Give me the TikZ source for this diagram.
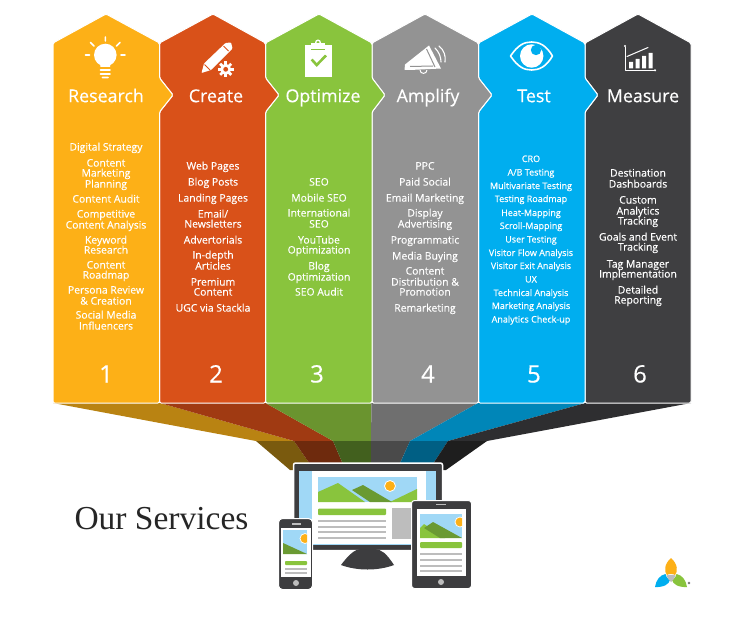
\documentclass[tikz,border=0pt]{standalone}
\usepackage{fontspec}
\setmainfont[RawFeature={embolden=0.35}]{Open Sans}
\newfontfamily\slabfont{Liberation Serif}
\definecolor{cA}{HTML}{FDB017}\definecolor{cB}{HTML}{D95119}\definecolor{cC}{HTML}{89C43D}
\definecolor{cD}{HTML}{939393}\definecolor{cE}{HTML}{00AEEF}\definecolor{cF}{HTML}{3F3F41}
\definecolor{mA}{HTML}{B98312}\definecolor{mB}{HTML}{A03A12}\definecolor{mC}{HTML}{6A942F}
\definecolor{mD}{HTML}{6F6F6F}\definecolor{mE}{HTML}{0086B8}\definecolor{mF}{HTML}{2E2E30}
\definecolor{lA}{HTML}{7A5A0E}\definecolor{lB}{HTML}{6E2A0D}\definecolor{lC}{HTML}{42601E}
\definecolor{lD}{HTML}{4A4A4A}\definecolor{lE}{HTML}{005F84}\definecolor{lF}{HTML}{1E1E1E}
\definecolor{sky}{HTML}{A0D8F6}\definecolor{devdark}{HTML}{3D3D3F}\definecolor{barg}{HTML}{BDBDBD}
\definecolor{hill}{HTML}{89C43D}\definecolor{hilld}{HTML}{6A9A33}
\tikzset{
 column/.style={draw=white,line width=1pt,rounded corners=1.5pt,line join=round},
 label/.style={text=white,inner sep=0pt},
 heading/.style={label,font=\fontsize{17.8}{20}\selectfont,text height=16.3pt,text depth=3.9pt},
 entry/.style={label,font=\fontsize{10.4}{11}\selectfont,text height=9.5pt,text depth=2.3pt},
 small/.style={label,font=\fontsize{9}{11}\selectfont,text height=8pt,text depth=2pt},
 digit/.style={label,font=\fontsize{24}{26}\selectfont,text height=22.3pt,text depth=5.3pt},
 icon/.style={draw=white,line cap=round,line join=round},
 grayline/.style={draw=barg,line width=2.2pt},
}
\begin{document}
\begin{tikzpicture}[x=1pt,y=-1pt]
\useasboundingbox (0,0) rectangle (749,623);
\fill[white] (0,0) rectangle (749,623);
% funnel
\foreach \a/\b/\ma/\mb/\la/\lb/\ca/\cb in {
 53/160/256/294/290/314/mA/lA,
 160/265.5/294/333/314/345.5/mB/lB,
 265.5/371.5/333/371/345.5/371/mC/lC,
 371.5/478/371/410/371/397/mD/lD,
 478/585.5/410/448/397/429/mE/lE,
 585.5/691/448/487/429/446/mF/lF}{
 \fill[\ca] (\a,403) -- (\b,403) -- (\mb,441) -- (\ma,441) -- cycle;
 \fill[\cb] (\ma,441) -- (\mb,441) -- (\lb,470) -- (\la,470) -- cycle;
}
% columns, right to left so every point lies over its neighbour
\fill[cF,column] (585,43) -- (638,14) -- (691,43) -- (691,403) -- (585,403) -- (585,112) -- (598,95) -- (585,78) -- cycle;
\fill[cE,column] (478.5,43) -- (532,14) -- (585,43) -- (585,78) -- (598,95) -- (585,112) -- (585,403) -- (478.5,403) -- (478.5,112) -- (492,95) -- (478.5,78) -- cycle;
\fill[cD,column] (372,43) -- (425,14) -- (478.5,43) -- (478.5,78) -- (492,95) -- (478.5,112) -- (478.5,403) -- (372,403) -- (372,112) -- (385,95) -- (372,78) -- cycle;
\fill[cC,column] (265.5,43) -- (319,14) -- (372,43) -- (372,78) -- (385,95) -- (372,112) -- (372,403) -- (265.5,403) -- (265.5,112) -- (279,95) -- (265.5,78) -- cycle;
\fill[cB,column] (159.5,43) -- (213,14) -- (265.5,43) -- (265.5,78) -- (279,95) -- (265.5,112) -- (265.5,403) -- (159.5,403) -- (159.5,112) -- (173,95) -- (159.5,78) -- cycle;
\fill[cA,column] (53,43) -- (106,14) -- (159.5,43) -- (159.5,78) -- (173,95) -- (159.5,112) -- (159.5,403) -- (53,403) -- cycle;
% headings
\node[heading] (h1) at (106,96) {Research};
\node[heading] (h2) at (216,96) {Create};
\node[heading] (h3) at (323,96) {Optimize};
\node[heading] (h4) at (428,96) {Amplify};
\node[heading] (h5) at (534,96) {Test};
\node[heading] (h6) at (643,96) {Measure};
% entries
\foreach \y/\t [count=\n] in {147/Digital Strategy,163/Content,173/Marketing,184/Planning,199/Content Audit,214/Competitive,225/Content Analysis,240/Keyword,250/Research,265/Content,275/Roadmap,290/Persona Review,301/{\& Creation},315/Social Media,326/Influencers}
 \node[entry] (a\n) at (106,\y) {\t};
\foreach \y/\t [count=\n] in {166/Web Pages,182/Blog Posts,198/Landing Pages,214/{Email\slash},224/Newsletters,240/Advertorials,255/In-depth,266/Articles,282/Premium,292/Content,308/UGC via Stackla}
 \node[entry] (b\n) at (213,\y) {\t};
\foreach \y/\t [count=\n] in {182/SEO,198/Mobile SEO,213/International,224/SEO,240/YouTube,250/Optimization,266/Blog,277/Optimization,292/SEO Audit}
 \node[entry] (c\n) at (319,\y) {\t};
\foreach \y/\t [count=\n] in {166/PPC,182/Paid Social,198/Email Marketing,213/Display,224/Advertising,240/Programmatic,256/Media Buying,271/Content,282/{Distribution \&},292/Promotion,308/Remarketing}
 \node[entry] (d\n) at (425,\y) {\t};
\foreach \y/\t [count=\n] in {159/CRO,172.5/{A\slash B Testing},186/Multivariate Testing,199/Testing Roadmap,213/Heat-Mapping,226/Scroll-Mapping,239.5/User Testing,253/Visitor Flow Analysis,266/Visitor Exit Analysis,279.5/UX,293/Technical Analysis,306/Marketing Analysis,319.5/Analytics Check-up}
 \node[small] (e\n) at (531,\y) {\t};
\foreach \y/\t [count=\n] in {173/Destination,184/Dashboards,200/Custom,211/Analytics,221/Tracking,237/Goals and Event,247/Tracking,264/Tag Manager,274/Implementation,290/Detailed,300/Reporting}
 \node[entry] (f\n) at (638,\y) {\t};
% digits
\node[digit] (n1) at (106,374) {1};
\node[digit] (n2) at (216,374) {2};
\node[digit] (n3) at (317,374) {3};
\node[digit] (n4) at (428,374) {4};
\node[digit] (n5) at (534,374) {5};
\node[digit] (n6) at (640,374) {6};
% bulb
\fill[white] (105.3,55) circle (11.3);
\fill[white] (99.5,60) -- (111,60) -- (110,67) -- (100.5,67) -- cycle;
\draw[icon,line width=1.6pt] (105.3,37) -- (105.3,41) (90.5,42.5) -- (94,46) (120,42.5) -- (116.5,46) (85.5,55) -- (89.5,55) (121,55) -- (125,55)
 (100.5,70) -- (110,70) (100.5,74) -- (110,74) (102.5,77.5) -- (108,77.5);
% pencil and gear
\fill[white,rounded corners=0.8pt] (201.5,73) -- (204,63.5) -- (225.5,43) -- (231,42.5) -- (232.5,48.5) -- (211,70) -- cycle;
\draw[cB,line width=1pt] (223.5,46) -- (228.5,51);
\draw[cB,line width=0.8pt] (204.5,64.5) -- (210,70);
\fill[cB] (225.7,69.3) circle (9.5);
\fill[white] (225.7,69.3) circle (5.5);
\foreach \r in {0,45,...,315}
 \fill[white,rotate around={\r:(225.7,69.3)}] (224.3,61.5) rectangle (227.1,65);
\fill[cB] (225.7,69.3) circle (2.4);
% clipboard
\fill[white] (305,45) rectangle (331.7,76.7);
\fill[white] (311,43.5) rectangle (325,48);
\draw[white,line width=1.3pt] (318,42.5) circle (2.3);
\draw[cC,line width=0.8pt] (311,49) -- (325,49);
\draw[cC,line width=2.6pt,line join=miter] (311.7,59.5) -- (316.7,65) -- (326,55.5);
% megaphone
\fill[white] (405,64.5) -- (429,45.5) -- (441,68.5) -- (410,70) -- (404.5,70) -- cycle;
\draw[cD,line width=1pt] (410,66.5) -- (433,66) (426.5,49) -- (435,67);
\draw[white,line width=1pt] (420,70) .. controls (420,74.5) and (427,74.5) .. (427,70);
\draw[icon,line width=1.1pt] (435,48) .. controls (439,52) and (441,57) .. (441,62) (439,46) .. controls (444,50) and (446,56) .. (445,62);
% eye
\draw[icon,line width=1.6pt] (510.5,56) .. controls (518,45) and (524,42) .. (531.7,42) .. controls (539,42) and (546,45) .. (552.5,56) .. controls (546,67) and (539,70) .. (531.7,70) .. controls (524,70) and (518,67) .. (510.5,56) -- cycle;
\fill[white] (531.7,56) circle (11.7);
\fill[cE] (536,50) circle (5.2);
% chart
\draw[icon,line width=0.9pt] (625,47) -- (625,70.3) -- (655,70.3);
\fill[white] (625,46) circle (1.2) (655,70.3) circle (1.2);
\fill[white] (629,62) rectangle (633,68.5) (635.5,59) rectangle (639.5,68.5) (642,56) rectangle (646,68.5) (648.5,53) rectangle (652.5,68.5);
\draw[icon,line width=1pt] (627,56.5) -- (648,47.5);
% monitor
\fill[devdark,draw=white,line width=1.5pt,rounded corners=2pt] (293.5,463) rectangle (442.5,550.5);
\fill[devdark] (341,565) .. controls (350,553) and (355,550) .. (360,549) -- (375,549) .. controls (382,550) and (386,553) .. (394,565) .. controls (378,571) and (357,571) .. (341,565) -- cycle;
\fill[sky] (299,471) rectangle (436,545);
\fill[white] (312,471) rectangle (426,544);
\fill[sky] (318,477) rectangle (417,502);
\fill[hill] (318,492) -- (338,483) -- (365,502) -- (318,502) -- cycle;
\fill[hill] (390,502) -- (417,489) -- (417,502) -- cycle;
\fill[hilld] (352,490) -- (363,485) -- (392,502) -- (370,502) -- cycle;
\fill[cA,draw=white,line width=0.8pt] (390,486) circle (5.5);
\fill[hill,rounded corners=1pt] (318,508.5) rectangle (386,515);
\fill[barg] (392,508) rectangle (425,539);
\foreach \y in {521,527,532,538} \draw[grayline] (318,\y) -- (386,\y);
% tablet
\fill[devdark,draw=white,line width=1pt,rounded corners=3pt] (411.5,500.5) rectangle (471.5,588.5);
\fill[white] (417,509) rectangle (466,576);
\begin{scope}
\clip (420,514) rectangle (462,538);
\fill[sky] (420,514) rectangle (462,538);
\fill[hill] (420,528) -- (424,524) -- (445,538) -- (420,538) -- cycle;
\fill[hilld] (424,528) -- (433,522) -- (462,538) -- (440,538) -- cycle;
\fill[cA,draw=white,line width=0.7pt] (460,522) circle (5);
\end{scope}
\fill[hill,rounded corners=1pt] (420,542) rectangle (462,548);
\foreach \y in {554,560,566,571} \draw[grayline] (420,\y) -- (462,\y);
\fill[barg] (441,582) circle (3);
\fill[barg] (436,503.5) rectangle (446,505.3);
% phone
\fill[devdark,draw=white,line width=1pt,rounded corners=4pt] (278.5,518.5) rectangle (312.5,589.5);
\fill[white] (281,528) rectangle (311,577);
\begin{scope}
\clip (283,530) rectangle (307,554);
\fill[sky] (283,530) rectangle (307,554);
\fill[hilld] (283,543) -- (307,554) -- (283,554) -- cycle;
\fill[cA,draw=white,line width=0.7pt] (305,538.5) circle (5);
\end{scope}
\fill[hill,rounded corners=0.8pt] (285,561) rectangle (307,565);
\foreach \y in {569,573} \draw[grayline,line width=1.6pt] (285,\y) -- (307,\y);
\fill[barg] (296,583) circle (3);
\fill[barg] (291.5,523.2) rectangle (300.5,525);
% title
\node[font=\slabfont\fontsize{33.5}{36}\selectfont,text=black!85,inner sep=0pt] (title) at (161.5,519) {Our Services};
% logo
\fill[cA] (671,558) .. controls (664,564) and (664,572) .. (667,575) .. controls (669,573.5) and (673,573.5) .. (675,575) .. controls (678,572) and (678,564) .. (671,558) -- cycle;
\fill[cE] (655,587) .. controls (664,587.5) and (669,584) .. (670,580) .. controls (667,579) and (666,576) .. (665.5,574) .. controls (660,575) and (656,580) .. (655,587) -- cycle;
\fill[cC] (687,587) .. controls (678,587.5) and (673,584) .. (672,580) .. controls (675,579) and (676,576) .. (676.5,574) .. controls (682,575) and (686,580) .. (687,587) -- cycle;
\fill[barg] (666.5,575.5) .. controls (669,574.5) and (673,574.5) .. (675.5,575.5) .. controls (675,578) and (673,580.5) .. (671,582) .. controls (669,580.5) and (667,578) .. (666.5,575.5) -- cycle;
\node[font=\fontsize{3}{3}\selectfont,text=gray,inner sep=0pt] (reg) at (689,583) {®};
\end{tikzpicture}
\end{document}
